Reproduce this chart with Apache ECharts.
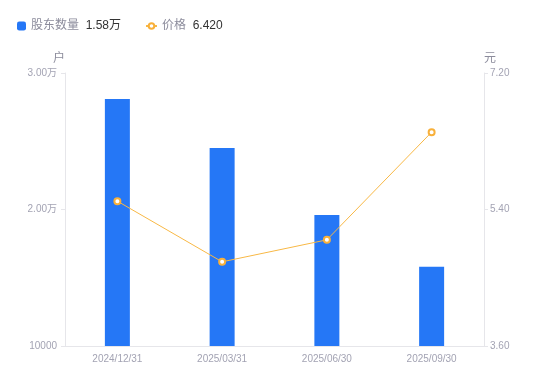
<!DOCTYPE html>
<html>
<head>
<meta charset="utf-8">
<script src="https://cdn.jsdelivr.net/npm/echarts@6/dist/echarts.min.js"></script>
<style>
  html, body { margin: 0; padding: 0; background: #fff; }
  #chart { width: 550px; height: 381px; }
</style>
</head>
<body>
<div id="chart"></div>
<script>
var dates = ['2024/12/31', '2025/03/31', '2025/06/30', '2025/09/30'];
var holders = [28100, 24500, 19600, 15800];
var prices = [5.51, 4.71, 5.00, 6.42];
var holderTicks = [10000, 30000, 10000];   // min, max, interval
var priceTicks = [3.6, 7.2, 1.8];

var font = '"Liberation Sans", "Noto Sans CJK SC", sans-serif';
var labelColor = '#a3a3b3';
var lineColor = '#e6e6ea';

function wan(v) {
  return (v / 10000).toFixed(2) + '万';
}

function legendText(name) {
  var val = name === '股东数量' ? wan(holders[holders.length - 1]) : prices[prices.length - 1].toFixed(3);
  return '{n|' + name + '}  {v|' + val + '}';
}

var legendStyle = {
  fontFamily: font,
  rich: {
    n: { color: '#8c8c9c', fontSize: 12, fontFamily: font },
    v: { color: '#333', fontSize: 12, fontFamily: font }
  }
};

var myChart = echarts.init(document.getElementById('chart'));
var option = {
  textStyle: { fontFamily: font },
  legend: [
    {
      left: 17,
      top: 20,
      padding: 0,
      itemWidth: 9,
      itemHeight: 9,
      data: [{ name: '股东数量', icon: 'roundRect' }],
      formatter: legendText,
      textStyle: legendStyle
    },
    {
      left: 145,
      top: 20,
      padding: 0,
      itemWidth: 11,
      itemHeight: 7,
      data: ['价格'],
      formatter: legendText,
      textStyle: legendStyle
    }
  ],
  grid: { left: 65, right: 66, top: 73, bottom: 35 },
  xAxis: {
    type: 'category',
    data: dates,
    axisLine: { lineStyle: { color: lineColor } },
    axisTick: { show: false },
    axisLabel: { color: labelColor, fontSize: 10, margin: 8 }
  },
  yAxis: [
    {
      type: 'value',
      name: '户',
      nameGap: 8,
      nameTextStyle: { color: '#8c8c9c', fontSize: 12, align: 'right' },
      min: holderTicks[0],
      max: holderTicks[1],
      interval: holderTicks[2],
      splitLine: { show: false },
      axisLine: { show: true, lineStyle: { color: lineColor } },
      axisTick: { show: true, length: 4, lineStyle: { color: lineColor } },
      axisLabel: {
        color: labelColor,
        fontSize: 10,
        margin: 8,
        formatter: function (v) { return v > 10000 ? wan(v) : String(v); }
      }
    },
    {
      type: 'value',
      name: '元',
      nameGap: 8,
      nameTextStyle: { color: '#8c8c9c', fontSize: 12, align: 'left' },
      min: priceTicks[0],
      max: priceTicks[1],
      interval: priceTicks[2],
      splitLine: { show: false },
      axisLine: { show: true, lineStyle: { color: lineColor } },
      axisTick: { show: true, length: 4, lineStyle: { color: lineColor } },
      axisLabel: {
        color: labelColor,
        fontSize: 10,
        margin: 6,
        formatter: function (v) { return v.toFixed(2); }
      }
    }
  ],
  series: [
    {
      name: '股东数量',
      type: 'bar',
      yAxisIndex: 0,
      barWidth: 25,
      data: holders,
      itemStyle: { color: '#2577f6' }
    },
    {
      name: '价格',
      type: 'line',
      yAxisIndex: 1,
      data: prices,
      symbol: 'emptyCircle',
      symbolSize: 6,
      lineStyle: { color: '#f8b845', width: 1 },
      itemStyle: { color: '#f8b03a', borderWidth: 2 }
    }
  ]
};
myChart.setOption(option);
</script>
</body>
</html>
